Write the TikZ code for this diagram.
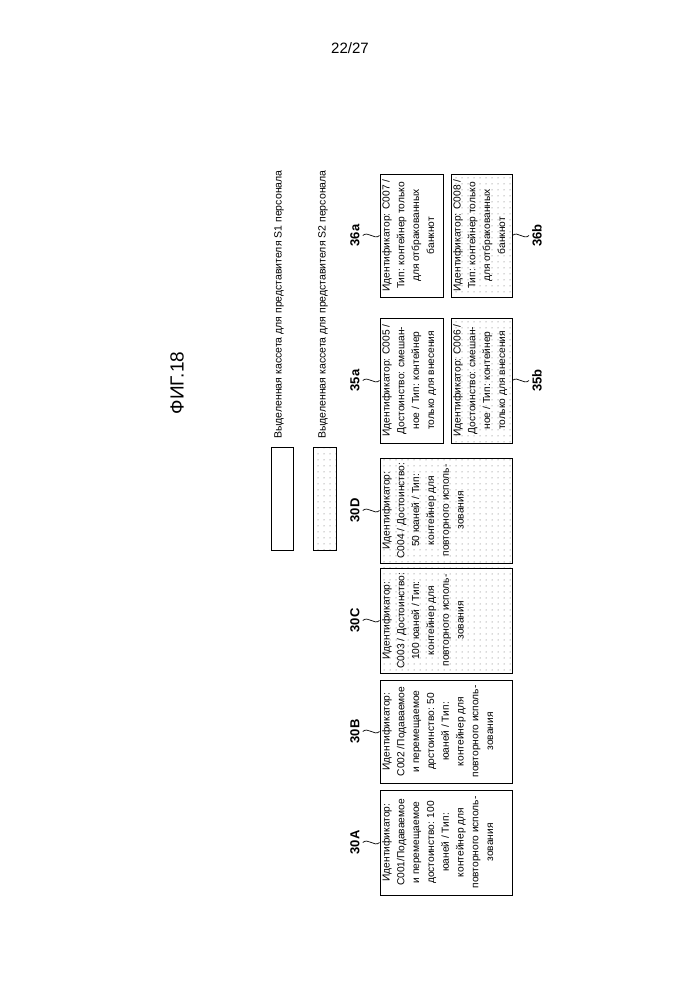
\documentclass[tikz,border=0pt]{standalone}
\usepackage{fontspec}
\setmainfont{Liberation Sans}
\usetikzlibrary{patterns.meta}
\begin{document}
\begin{tikzpicture}[x=1pt,y=1pt,
  cbox/.style={draw,line width=0.9pt,rotate=90,inner sep=0pt},
  dotbox/.style={cbox,pattern={Dots[distance=6pt,radius=0.5pt]},pattern color=black!65},
  ctext/.style={rotate=90,anchor=north,inner xsep=0pt,inner ysep=2.5pt,align=center,
    font=\fontsize{10.2}{14.8}\selectfont},
  lbl/.style={rotate=90,font=\fontsize{13}{15}\selectfont\bfseries,inner sep=3pt},
  lead/.style={line width=0.7pt},
  legtext/.style={rotate=90,anchor=west,font=\fontsize{10.5}{12}\selectfont,inner sep=0pt}]
\useasboundingbox (0,0) rectangle (699,1000);
\node (page) at (350,952) {\fontsize{15}{17}\selectfont 22/27};
\node[rotate=90] (fig) at (177,617) {\fontsize{19}{22}\selectfont ФИГ.18};
% legend
\node[draw,line width=0.9pt,minimum width=22,minimum height=103,inner sep=0] (leg1) at (282,501.5) {};
\node[draw,line width=0.9pt,minimum width=23,minimum height=103,inner sep=0,
  pattern={Dots[distance=6pt,radius=0.5pt]},pattern color=black!65] (leg2) at (324.5,501.5) {};
\node[legtext] (legt1) at (279,561) {Выделенная кассета для представителя S1 персонала};
\node[legtext] (legt2) at (323,561) {Выделенная кассета для представителя S2 персонала};
% boxes
\node[cbox,minimum width=105,minimum height=132] (b30A) at (446,157.5) {};
\node[cbox,minimum width=103,minimum height=132] (b30B) at (446,268.5) {};
\node[dotbox,minimum width=105,minimum height=132] (b30C) at (446,379.5) {};
\node[dotbox,minimum width=105,minimum height=132] (b30D) at (446,489.5) {};
\node[cbox,minimum width=125,minimum height=63] (b35a) at (411.5,619.5) {};
\node[dotbox,minimum width=125,minimum height=61] (b35b) at (481.5,619.5) {};
\node[cbox,minimum width=123,minimum height=63] (b36a) at (411.5,764.5) {};
\node[dotbox,minimum width=123,minimum height=61] (b36b) at (481.5,764.5) {};
% texts
\node[ctext] (t30A) at (b30A.north)
 {Идентификатор:\\C001/Подаваемое\\и перемещаемое\\достоинство: 100\\юаней / Тип:\\контейнер для\\повторного исполь-\\зования};
\node[ctext] (t30B) at (b30B.north)
 {Идентификатор:\\C002 /Подаваемое\\и перемещаемое\\достоинство: 50\\юаней / Тип:\\контейнер для\\повторного исполь-\\зования};
\node[ctext] (t30C) at (b30C.north)
 {Идентификатор:\\C003 / Достоинство:\\100 юаней / Тип:\\контейнер для\\повторного исполь-\\зования};
\node[ctext] (t30D) at (b30D.north)
 {Идентификатор:\\C004 / Достоинство:\\50 юаней / Тип:\\контейнер для\\повторного исполь-\\зования};
\node[ctext] (t35a) at (b35a.north)
 {Идентификатор: C005 /\\Достоинство: смешан-\\ное / Тип: контейнер\\только для внесения};
\node[ctext] (t35b) at (b35b.north)
 {Идентификатор: C006 /\\Достоинство: смешан-\\ное / Тип: контейнер\\только для внесения};
\node[ctext] (t36a) at (b36a.north)
 {Идентификатор: C007 /\\Тип: контейнер только\\для отбракованных\\банкнот};
\node[ctext] (t36b) at (b36b.north)
 {Идентификатор: C008 /\\Тип: контейнер только\\для отбракованных\\банкнот};
% labels
\node[lbl] (l30A) at (355,157.5) {30A};
\node[lbl] (l30B) at (355,268.5) {30B};
\node[lbl] (l30C) at (355,379.5) {30C};
\node[lbl] (l30D) at (355,489.5) {30D};
\node[lbl] (l35a) at (355,619.5) {35a};
\node[lbl] (l36a) at (355,764.5) {36a};
\node[lbl] (l35b) at (537,619.5) {35b};
\node[lbl] (l36b) at (537,764.5) {36b};
% leaders
\foreach \n in {30A,30B,30C,30D,35a,36a}{
  \draw[lead] (l\n.south) .. controls +(5,5) and +(-5,-5) .. (b\n.north);}
\foreach \n in {35b,36b}{
  \draw[lead] (b\n.south) .. controls +(5,5) and +(-5,-5) .. (l\n.north);}
\end{tikzpicture}
\end{document}
